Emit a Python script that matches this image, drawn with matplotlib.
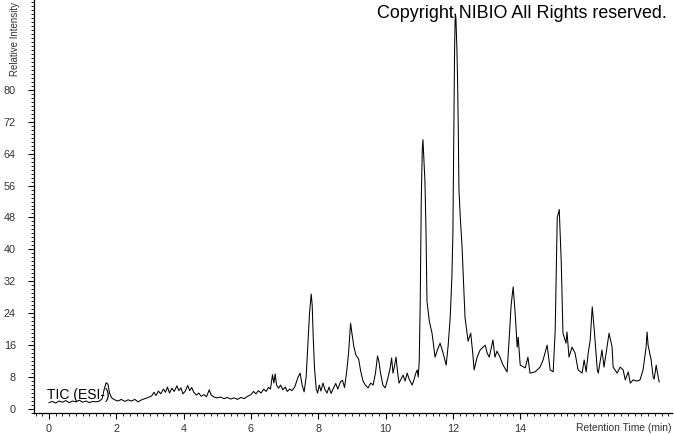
import matplotlib
matplotlib.use("Agg")
import matplotlib.pyplot as plt
from matplotlib.ticker import MultipleLocator, FixedLocator

# TIC chromatogram
rt = [0.0, 0.1, 0.2, 0.3, 0.4, 0.5, 0.6, 0.7, 0.8, 0.9, 1.0, 1.1, 1.2, 1.3, 1.4, 1.5,
      1.58, 1.64, 1.70, 1.75, 1.80, 1.86, 1.95, 2.05, 2.15, 2.25, 2.35, 2.45, 2.55, 2.65,
      2.75, 2.85, 2.95, 3.05, 3.12, 3.18, 3.25, 3.32, 3.40, 3.46, 3.52, 3.58, 3.65, 3.72,
      3.80, 3.86, 3.92, 3.98, 4.05, 4.12, 4.18, 4.24, 4.30, 4.38, 4.45, 4.52, 4.60, 4.68,
      4.76, 4.82, 4.90, 5.0, 5.1, 5.2, 5.3, 5.4, 5.5, 5.6, 5.7, 5.8, 5.9, 6.0, 6.08, 6.15,
      6.22, 6.30, 6.38, 6.45, 6.52, 6.58, 6.64, 6.68, 6.72, 6.76, 6.82, 6.88, 6.95, 7.02,
      7.08, 7.15, 7.22, 7.30, 7.36, 7.40, 7.46, 7.52, 7.58, 7.64, 7.69, 7.74, 7.79, 7.82,
      7.85, 7.89, 7.94, 7.98, 8.03, 8.08, 8.14, 8.20, 8.26, 8.32, 8.38, 8.45, 8.52, 8.58,
      8.66, 8.72, 8.78, 8.84, 8.90, 8.96, 9.00, 9.06, 9.12, 9.20, 9.26, 9.33, 9.40, 9.48,
      9.56, 9.63, 9.70, 9.76, 9.80, 9.85, 9.92, 9.99, 10.06, 10.13, 10.18, 10.22, 10.26,
      10.31, 10.36, 10.40, 10.46, 10.52, 10.58, 10.64, 10.70, 10.79, 10.85, 10.90, 10.94,
      10.97, 11.00, 11.03, 11.06, 11.09, 11.11, 11.14, 11.17, 11.20, 11.23, 11.30, 11.38,
      11.47, 11.55, 11.62, 11.71, 11.80, 11.86, 11.92, 11.97, 12.00, 12.03, 12.05, 12.07,
      12.09, 12.12, 12.14, 12.16, 12.18, 12.22, 12.27, 12.36, 12.45, 12.53, 12.59, 12.63,
      12.72, 12.81, 12.90, 12.96, 13.02, 13.08, 13.19, 13.25, 13.31, 13.40, 13.49, 13.61,
      13.67, 13.73, 13.79, 13.85, 13.91, 13.94, 14.00, 14.15, 14.23, 14.29, 14.44, 14.59,
      14.68, 14.80, 14.89, 14.98, 15.04, 15.10, 15.16, 15.22, 15.27, 15.36, 15.39, 15.45,
      15.54, 15.63, 15.72, 15.84, 15.90, 15.96, 16.02, 16.08, 16.14, 16.20, 16.29, 16.32,
      16.43, 16.49, 16.58, 16.64, 16.73, 16.76, 16.88, 16.97, 17.06, 17.12, 17.21, 17.27,
      17.36, 17.47, 17.56, 17.65, 17.74, 17.77, 17.80, 17.89, 17.95, 17.98, 18.04, 18.10,
      18.13]
intensity = [1.6, 1.9, 1.5, 2.0, 1.7, 2.1, 1.6, 2.0, 1.8, 2.2, 1.7, 2.0, 1.6, 1.9, 1.8, 2.0,
             2.6, 5.0, 6.6, 6.2, 4.0, 2.8, 2.3, 2.0, 2.4, 1.9, 2.3, 2.0, 2.4, 1.8,
             2.3, 2.6, 2.9, 3.3, 4.2, 3.4, 4.5, 3.8, 5.0, 4.2, 5.5, 4.0, 5.2, 4.4,
             5.8, 4.6, 5.3, 3.8, 4.5, 5.9, 4.6, 5.4, 4.2, 3.5, 4.0, 3.2, 3.6, 3.1,
             4.8, 3.5, 3.0, 2.8, 3.0, 2.6, 2.9, 2.5, 2.8, 2.4, 2.9, 2.6, 3.2, 3.6, 4.4, 3.8,
             4.6, 4.0, 5.0, 4.4, 5.4, 5.0, 8.6, 6.5, 8.8, 6.0, 5.2, 6.0, 4.8, 5.5,
             4.4, 5.0, 4.6, 5.5, 7.0, 8.0, 9.0, 6.0, 4.3, 8.0, 16.0, 24.0, 28.8, 26.0,
             18.0, 10.0, 5.0, 4.0, 6.0, 4.5, 6.5, 4.8, 4.0, 5.5, 3.9, 5.2, 6.4, 5.0,
             6.8, 7.2, 5.4, 9.0, 14.0, 21.5, 19.0, 15.5, 13.5, 12.5, 9.5, 7.0, 6.0, 5.3,
             6.5, 6.0, 9.0, 13.3, 12.0, 9.0, 6.0, 5.3, 7.5, 10.0, 12.8, 9.0, 10.5,
             13.0, 9.0, 6.5, 7.5, 8.5, 7.0, 9.0, 7.5, 6.0, 7.5, 9.0, 9.8,
             8.0, 12.0, 27.0, 52.0, 65.0, 67.5, 62.0, 57.0, 45.0, 27.0, 22.0, 19.0,
             13.0, 15.0, 16.5, 14.0, 11.0, 16.0, 23.0, 33.0, 44.0, 70.0, 90.0, 99.0,
             98.0, 90.0, 82.0, 70.0, 55.0, 48.0, 41.0, 23.0, 17.0, 19.0, 14.0, 9.8,
             13.0, 14.8, 15.5, 16.0, 14.0, 13.0, 17.3, 13.0, 14.5, 13.0, 11.0, 9.3,
             17.3, 26.0, 30.6, 24.0, 15.5, 18.0, 11.0, 10.3, 13.0, 9.0, 9.3, 10.5,
             12.3, 16.0, 9.8, 9.3, 19.8, 48.0, 50.0, 36.6, 19.0, 16.5, 19.3, 13.0,
             15.5, 14.0, 9.8, 9.0, 12.3, 9.3, 14.0, 17.3, 25.6, 19.8, 9.8, 9.0,
             14.8, 10.5, 15.5, 19.0, 15.5, 10.5, 9.0, 10.5, 9.8, 7.3, 9.3, 6.5,
             7.3, 7.0, 7.3, 9.8, 15.5, 19.3, 16.0, 12.3, 8.0, 7.5, 11.0, 8.0,
             6.8]

xticks = [0, 2, 4, 6, 8, 10, 12, 14]
yticks = [0, 8, 16, 24, 32, 40, 48, 56, 64, 72, 80]

fig = plt.figure(figsize=(6.74, 4.34), dpi=100)
ax = fig.add_axes([34/674, 21/434, 638/674, 413/434])

ax.plot(rt, intensity, color='black', linewidth=0.75)

ax.set_xlim(-0.446, 18.51)
ax.set_ylim(-1.0, 102.5)

for s in ['top', 'right']:
    ax.spines[s].set_visible(False)
for s in ['left', 'bottom']:
    ax.spines[s].set_color('black')
    ax.spines[s].set_linewidth(0.9)

ax.xaxis.set_major_locator(FixedLocator(xticks))
ax.xaxis.set_minor_locator(MultipleLocator(0.2))
ax.yaxis.set_major_locator(FixedLocator(yticks))
ax.yaxis.set_minor_locator(MultipleLocator(1))

ax.tick_params(axis='both', which='major', length=4, width=0.8, direction='out',
               labelsize=7.8, labelcolor='#333333')
ax.tick_params(axis='both', which='minor', length=2, width=0.6, direction='out')
ax.tick_params(axis='x', which='major', pad=4)
ax.tick_params(axis='y', which='major', pad=9)
for lab in ax.get_xticklabels() + ax.get_yticklabels():
    lab.set_family('Liberation Sans')

ax.text(-0.05, 3.6, 'TIC (ESI-)', fontsize=10, family='Liberation Sans',
        color='black', va='center', ha='left')

fig.text(15/674, 1 - 39/434, 'Relative Intensity', rotation=90, fontsize=7,
         family='Liberation Sans', color='#333333', ha='center', va='center')
fig.text(672/674, 1 - 428/434, 'Retention Time (min)', fontsize=7.4,
         family='Liberation Sans', color='#333333', ha='right', va='center')
fig.text(667/674, 1 - 14/434, 'Copyright NIBIO All Rights reserved.', fontsize=12.9,
         family='Liberation Sans', color='black', ha='right', va='center')

fig.savefig('out.png', dpi=100)
